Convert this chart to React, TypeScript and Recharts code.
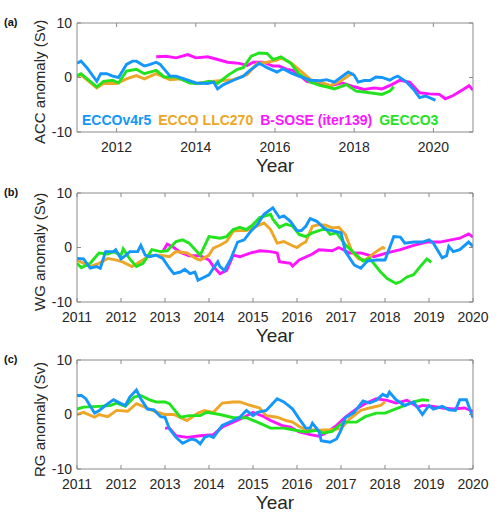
import { Legend, Line, LineChart, XAxis, YAxis } from 'recharts';

const COLORS = {
  ecco4: '#1496FA',
  llc270: '#EEA626',
  bsose: '#FF14FF',
  gecco3: '#22E41E',
};

const NAMES = {
  ecco4: 'ECCOv4r5',
  llc270: 'ECCO LLC270',
  bsose: 'B-SOSE (iter139)',
  gecco3: 'GECCO3',
};

const FONT = '"Liberation Sans", Arial, Helvetica, sans-serif';
const TEXT = '#262626';
const AXIS = '#8a8a8a';

const Y_TICKS = [-10, 0, 10];
const X_TICKS_A = [2012, 2014, 2016, 2018, 2020];
const X_TICKS_BC = [2011, 2012, 2013, 2014, 2015, 2016, 2017, 2018, 2019, 2020];

type Pt = [number, number];

// (a) ACC
const accEcco4: Pt[] = [
  [2011.0, 2.6], [2011.1, 3.0], [2011.25, 1.8], [2011.5, -0.7], [2011.6, 0.7], [2011.75, 0.7], [2011.9, 0.25],
  [2012.05, 0], [2012.25, 2.4], [2012.4, 3.0], [2012.5, 3.0], [2012.7, 2.1], [2012.85, 2.4], [2013.0, 2.8],
  [2013.1, 2.4], [2013.35, 0.25], [2013.5, 0.25], [2013.8, -0.5], [2014.0, -1.0], [2014.3, -1.1], [2014.45, -0.85],
  [2014.55, -2.1], [2014.7, -1.3], [2014.95, -0.5], [2015.2, 0.25], [2015.35, 1.2], [2015.6, 2.6], [2015.8, 1.8],
  [2016.05, 1.0], [2016.2, 1.6], [2016.4, 0.85], [2016.6, 0.25], [2016.9, -0.5], [2017.15, -0.6], [2017.3, -0.4],
  [2017.5, -0.85], [2017.65, -0.05], [2017.85, 1.0], [2018.0, 0.4], [2018.1, -0.85], [2018.25, -0.55],
  [2018.4, -0.55], [2018.55, 0.1], [2018.7, 0], [2018.9, -0.5], [2019.0, -0.05], [2019.1, 0.25], [2019.3, -0.7],
  [2019.5, -2.2], [2019.65, -3.7], [2019.8, -3.4], [2020.0, -4.0], [2020.05, -4.2],
];
const accLlc270: Pt[] = [
  [2011.0, 0.2], [2011.1, 0.5], [2011.5, -1.9], [2011.67, -1.1], [2012.0, -1.1], [2012.25, -0.25], [2012.5, 0.35],
  [2012.7, -0.25], [2013.0, 0.7], [2013.35, -0.4], [2013.6, -0.25], [2014.0, -1.1], [2014.45, -0.7], [2014.95, -0.4],
  [2015.3, 0.55], [2015.55, 2.6], [2015.8, 2.8], [2016.05, 3.2], [2016.15, 3.6], [2016.4, 2.7], [2016.6, 1.5],
  [2016.9, -0.4], [2017.15, -0.85], [2017.4, -1.5], [2017.65, -0.7], [2017.9, 0.55], [2018.0, 0.7],
];
const accBsose: Pt[] = [
  [2013.0, 3.8], [2013.25, 3.9], [2013.5, 3.6], [2013.8, 4.2], [2014.0, 3.6], [2014.3, 3.8], [2014.55, 3.3],
  [2014.8, 2.8], [2015.1, 2.6], [2015.3, 2.2], [2015.45, 2.8], [2015.7, 2.8], [2015.95, 2.1], [2016.1, 2.1],
  [2016.3, 1.5], [2016.45, 1.3], [2016.6, 0.55], [2016.8, -0.7], [2017.05, -1.0], [2017.4, -1.5], [2017.7, -1.0],
  [2018.0, -1.7], [2018.25, -2.2], [2018.5, -1.9], [2018.7, -2.1], [2018.95, -1.3], [2019.15, -0.5], [2019.4, -0.85],
  [2019.65, -2.8], [2019.9, -3.0], [2020.15, -3.1], [2020.3, -3.9], [2020.5, -3.3], [2020.75, -2.2], [2020.9, -1.5],
  [2021.0, -2.3],
];
const accGecco3: Pt[] = [
  [2011.0, 0.35], [2011.1, 0.7], [2011.5, -1.7], [2011.67, -0.7], [2011.9, -0.5], [2012.05, -1.0], [2012.25, 1.2],
  [2012.5, 1.5], [2012.7, 0.7], [2013.0, 1.3], [2013.2, 0.1], [2013.5, 0.1], [2013.85, -1.0], [2014.1, -1.1],
  [2014.35, -0.7], [2014.55, -1.1], [2014.8, 0.35], [2015.05, 1.5], [2015.2, 1.8], [2015.4, 3.9], [2015.6, 4.5],
  [2015.8, 4.4], [2015.95, 3.3], [2016.15, 3.8], [2016.4, 2.6], [2016.6, 0.7], [2016.9, -0.85], [2017.15, -1.5],
  [2017.3, -1.7], [2017.5, -2.1], [2017.8, -1.3], [2018.05, -2.5], [2018.3, -2.7], [2018.7, -3.1], [2018.9, -2.5],
  [2019.0, -1.7],
];

// (b) WG
const wgEcco4: Pt[] = [
  [2011.0, -2.0], [2011.15, -2.1], [2011.3, -3.8], [2011.45, -3.5], [2011.53, -3.8], [2011.65, -0.75],
  [2011.83, -0.75], [2011.88, -0.4], [2012.0, -2.1], [2012.1, -1.5], [2012.2, -0.75], [2012.38, -0.75],
  [2012.45, 0.4], [2012.55, -1.4], [2012.65, -1.7], [2012.8, -1.4], [2012.95, -2.0], [2013.1, -3.8], [2013.2, -4.8],
  [2013.35, -4.5], [2013.45, -4.0], [2013.57, -4.8], [2013.68, -4.5], [2013.75, -6.0], [2014.0, -5.0],
  [2014.2, -2.6], [2014.25, -3.5], [2014.35, -4.2], [2014.5, -2.0], [2014.65, 1.0], [2014.8, 1.4], [2014.95, 3.0],
  [2015.1, 4.2], [2015.25, 6.1], [2015.45, 7.3], [2015.6, 5.5], [2015.7, 5.8], [2015.85, 4.8], [2016.0, 3.1],
  [2016.1, 3.1], [2016.2, 3.9], [2016.3, 5.3], [2016.45, 4.8], [2016.65, 3.3], [2016.8, 3.1], [2017.0, 2.7],
  [2017.1, -0.75], [2017.3, -3.2], [2017.45, -3.8], [2017.6, -2.5], [2017.8, -2.3], [2018.0, -2.3], [2018.2, 2.0],
  [2018.35, 1.9], [2018.45, 0.8], [2018.65, 1.0], [2018.85, 1.0], [2019.0, 1.4], [2019.1, 0.8], [2019.3, -1.9],
  [2019.4, -1.5], [2019.45, 0.2], [2019.55, -0.75], [2019.7, -0.4], [2019.9, 1.0], [2020.0, 0.2],
];
const wgLlc270: Pt[] = [
  [2011.0, -2.3], [2011.15, -2.9], [2011.3, -3.5], [2011.5, -2.9], [2011.7, -2.0], [2011.9, -2.3], [2012.05, -2.7],
  [2012.25, -3.5], [2012.45, -2.5], [2012.65, -1.5], [2012.9, -1.4], [2013.1, -1.7], [2013.25, -0.75],
  [2013.5, -1.0], [2013.7, -2.0], [2013.8, -2.3], [2014.0, -1.4], [2014.1, -0.1], [2014.25, 0.4], [2014.4, 1.1],
  [2014.55, 3.0], [2014.7, 3.1], [2014.85, 3.1], [2015.0, 3.6], [2015.25, 4.5], [2015.4, 3.3], [2015.55, 0.8],
  [2015.7, 1.1], [2015.85, 0.5], [2016.0, 0], [2016.1, 0.6], [2016.2, 1.0], [2016.35, 3.9], [2016.5, 4.2],
  [2016.65, 4.1], [2016.8, 3.6], [2016.95, 3.7], [2017.1, 2.4], [2017.25, -0.75], [2017.4, -2.1], [2017.55, -2.3],
  [2017.8, -0.75], [2017.95, 0], [2018.0, -0.25],
];
const wgBsose: Pt[] = [
  [2012.95, -0.75], [2013.05, 0.6], [2013.2, 0], [2013.35, -0.9], [2013.55, -1.5], [2013.8, -1.5], [2014.0, -2.3],
  [2014.1, -3.5], [2014.25, -4.8], [2014.4, -4.2], [2014.55, -1.4], [2014.7, -1.7], [2014.95, -1.0], [2015.15, -0.6],
  [2015.4, -0.75], [2015.55, -1.0], [2015.6, -2.6], [2015.85, -2.9], [2015.9, -3.4], [2016.05, -2.3], [2016.35, -1.2],
  [2016.5, -0.4], [2016.8, -0.6], [2016.95, 0], [2017.2, -1.0], [2017.45, -1.0], [2017.75, -1.7], [2018.05, -1.0],
  [2018.35, -0.4], [2018.65, 0.4], [2018.95, 1.0], [2019.25, 1.0], [2019.5, 1.4], [2019.7, 1.7], [2019.9, 2.5],
  [2020.0, 1.9],
];
const wgGecco3: Pt[] = [
  [2011.0, -2.9], [2011.1, -3.7], [2011.3, -2.9], [2011.5, -1.0], [2011.7, -1.2], [2011.83, -0.75], [2012.0, -1.4],
  [2012.05, -0.25], [2012.2, -2.1], [2012.35, -3.5], [2012.5, -2.9], [2012.6, -1.7], [2012.7, -0.4], [2012.9, -0.75],
  [2013.05, -0.6], [2013.25, 1.1], [2013.4, 1.4], [2013.55, 0.8], [2013.65, -0.1], [2013.8, -1.4], [2014.0, 2.0],
  [2014.25, 1.7], [2014.4, 2.0], [2014.55, 3.3], [2014.7, 3.7], [2014.85, 3.3], [2015.0, 4.2], [2015.15, 5.5],
  [2015.4, 6.1], [2015.45, 5.2], [2015.6, 3.7], [2015.75, 4.3], [2015.9, 3.9], [2016.05, 2.4], [2016.2, 2.0],
  [2016.35, 2.7], [2016.5, 3.1], [2016.65, 3.5], [2016.75, 2.4], [2016.9, 2.7], [2017.1, 0.5], [2017.35, -1.4],
  [2017.5, -2.5], [2017.65, -2.0], [2017.9, -4.5], [2018.05, -5.7], [2018.25, -6.6], [2018.35, -6.3],
  [2018.5, -5.4], [2018.65, -5.0], [2018.8, -3.5], [2018.95, -2.1], [2019.05, -2.7],
];

// (c) RG
const rgEcco4: Pt[] = [
  [2011.0, 3.5], [2011.1, 3.5], [2011.2, 2.9], [2011.4, 0.25], [2011.5, 0.7], [2011.7, 2.0], [2011.83, 2.7],
  [2012.0, 2.0], [2012.1, 1.65], [2012.2, 3.2], [2012.35, 4.5], [2012.45, 2.9], [2012.6, 1.0], [2012.75, 0.85],
  [2012.9, -0.4], [2013.0, -0.5], [2013.1, -2.6], [2013.25, -4.2], [2013.4, -5.3], [2013.6, -4.5], [2013.7, -4.7],
  [2013.8, -5.4], [2013.9, -4.2], [2014.0, -3.9], [2014.1, -4.2], [2014.3, -2.0], [2014.55, -1.1], [2014.7, -0.5],
  [2014.85, 0.75], [2015.0, -0.2], [2015.1, 0.4], [2015.3, 0.75], [2015.55, 2.9], [2015.7, 2.3], [2015.85, 1.35],
  [2015.9, 1.0], [2016.05, -0.8], [2016.2, -2.5], [2016.3, -2.5], [2016.35, -1.6], [2016.5, -3.1], [2016.55, -4.8],
  [2016.75, -5.1], [2016.9, -4.5], [2017.0, -2.9], [2017.1, -0.6], [2017.3, 0.4], [2017.5, 2.5], [2017.65, 2.1],
  [2017.8, 2.6], [2017.95, 3.7], [2018.05, 3.3], [2018.1, 4.1], [2018.25, 2.7], [2018.45, 1.65], [2018.65, 2.3],
  [2018.85, 0], [2019.0, 1.65], [2019.1, 1.0], [2019.3, 1.5], [2019.45, 0.85], [2019.6, 0.75], [2019.7, 2.7],
  [2019.85, 2.7], [2020.0, -0.6],
];
const rgLlc270: Pt[] = [
  [2011.0, 0], [2011.15, 0.4], [2011.4, -0.5], [2011.5, 0], [2011.7, -0.4], [2011.9, 0.75], [2012.15, 0.6],
  [2012.35, 2.0], [2012.5, 1.5], [2012.75, 0.6], [2013.0, 0], [2013.2, 0], [2013.5, -1.1], [2013.75, 0.25],
  [2013.9, 0.75], [2014.1, 0.4], [2014.3, 2.1], [2014.55, 2.3], [2014.7, 2.3], [2014.95, 1.65], [2015.15, 1.2],
  [2015.3, -0.2], [2015.55, -0.5], [2015.75, -1.1], [2015.9, -1.4], [2016.05, -2.2], [2016.2, -2.8], [2016.5, -2.9],
  [2016.75, -2.8], [2017.0, -2.6], [2017.2, -0.8], [2017.45, 0.75], [2017.65, 1.2], [2017.9, 1.65], [2018.0, 2.3],
];
const rgBsose: Pt[] = [
  [2013.0, -2.5], [2013.1, -2.5], [2013.25, -3.9], [2013.5, -4.2], [2013.8, -3.9], [2014.1, -3.7], [2014.3, -2.3],
  [2014.55, -1.4], [2014.8, -0.5], [2015.0, 0.4], [2015.25, -0.4], [2015.4, -1.1], [2015.65, -2.0], [2015.85, -2.3],
  [2016.05, -3.2], [2016.3, -3.7], [2016.5, -4.0], [2016.7, -3.2], [2016.9, -2.0], [2017.1, -0.5], [2017.35, 1.0],
  [2017.55, 2.0], [2017.8, 2.9], [2018.05, 2.6], [2018.25, 2.1], [2018.5, 2.6], [2018.75, 1.35], [2018.85, 1.65],
  [2019.1, 1.5], [2019.3, 1.2], [2019.55, 1.0], [2019.8, 1.2], [2020.0, 0.6],
];
const rgGecco3: Pt[] = [
  [2011.0, 1.0], [2011.15, 1.35], [2011.5, 1.5], [2011.75, 1.65], [2011.9, 2.1], [2012.1, 1.5], [2012.3, 3.2],
  [2012.45, 3.5], [2012.65, 2.7], [2012.8, 2.3], [2013.0, 2.3], [2013.1, 2.0], [2013.2, 1.0], [2013.35, -0.5],
  [2013.55, -0.2], [2013.8, -0.2], [2013.95, 0.4], [2014.25, 0], [2014.55, -0.6], [2014.85, -0.6], [2015.1, -1.4],
  [2015.4, -2.5], [2015.7, -2.5], [2015.9, -2.8], [2016.2, -3.2], [2016.45, -2.9], [2016.6, -3.4], [2016.8, -3.1],
  [2017.05, -1.4], [2017.35, -1.4], [2017.55, -0.4], [2017.8, 0.25], [2018.0, 0.25], [2018.35, 1.35],
  [2018.65, 2.3], [2018.85, 2.7], [2019.0, 2.6],
];

type Key = keyof typeof COLORS;
const DRAW_ORDER: Key[] = ['bsose', 'llc270', 'gecco3', 'ecco4'];
const LEGEND_ORDER: Key[] = ['ecco4', 'llc270', 'bsose', 'gecco3'];

const toRows = (pts: Pt[]) => pts.map(([t, v]) => ({ t, v }));

interface PanelProps {
  tag: string;
  yLabel: string;
  xMax: number;
  xTicks: number[];
  series: Record<Key, Pt[]>;
  top: number;
  legend?: boolean;
}

const LegendRow = () => (
  <div style={{ display: 'flex', gap: 7, fontFamily: FONT, fontSize: 14, fontWeight: 'bold', whiteSpace: 'nowrap' }}>
    {LEGEND_ORDER.map((k) => (
      <span key={k} style={{ color: COLORS[k] }}>
        {NAMES[k]}
      </span>
    ))}
  </div>
);

const tickStyle = { fill: TEXT, fontSize: 14, fontFamily: FONT };

function Panel({ tag, yLabel, xMax, xTicks, series, top, legend }: PanelProps) {
  return (
    <div style={{ position: 'absolute', left: 0, top, width: 500, height: 176 }}>
      <div style={{ position: 'absolute', left: 4, top: 16, fontFamily: FONT, fontSize: 11, fontWeight: 'bold', color: '#111' }}>
        {tag}
      </div>
      {/* y-axis title, written bottom-to-top */}
      <div
        style={{
          position: 'absolute',
          left: 31,
          top: 20,
          height: 124,
          width: 18,
          lineHeight: '18px',
          writingMode: 'vertical-rl',
          transform: 'rotate(180deg)',
          textAlign: 'center',
          whiteSpace: 'nowrap',
          fontFamily: FONT,
          fontSize: 15,
          color: TEXT,
          zIndex: 1,
        }}
      >
        {yLabel}
      </div>
      <LineChart width={500} height={176} margin={{ top: 22, right: 26, left: 0, bottom: 0 }}>
        <XAxis
          xAxisId="bottom"
          type="number"
          dataKey="t"
          domain={[2011, xMax]}
          ticks={xTicks}
          allowDataOverflow
          stroke={AXIS}
          tickSize={-4}
          tickMargin={14}
          tick={tickStyle}
          interval={0}
          height={44}
          label={{ value: 'Year', position: 'insideBottom', offset: 4, style: { fill: TEXT, fontSize: 19, fontFamily: FONT } }}
        />
        <XAxis
          xAxisId="top"
          orientation="top"
          type="number"
          dataKey="t"
          domain={[2011, xMax]}
          ticks={xTicks}
          allowDataOverflow
          stroke={AXIS}
          tickSize={-4}
          tickFormatter={() => ''}
          interval={0}
          height={1}
        />
        <YAxis
          yAxisId="left"
          type="number"
          domain={[-10, 10]}
          ticks={Y_TICKS}
          allowDataOverflow
          stroke={AXIS}
          tickSize={-4}
          tickMargin={9}
          tick={tickStyle}
          interval={0}
          width={77}
        />
        <YAxis
          yAxisId="right"
          orientation="right"
          type="number"
          domain={[-10, 10]}
          ticks={Y_TICKS}
          allowDataOverflow
          stroke={AXIS}
          tickSize={-4}
          tickFormatter={() => ''}
          interval={0}
          width={1}
        />
        {DRAW_ORDER.map((k) => (
          <Line
            key={k}
            xAxisId="bottom"
            yAxisId="left"
            data={toRows(series[k])}
            dataKey="v"
            name={NAMES[k]}
            type="linear"
            stroke={COLORS[k]}
            strokeWidth={2.9}
            dot={false}
            isAnimationActive={false}
          />
        ))}
        {legend && (
          <Legend
            layout="horizontal"
            align="center"
            verticalAlign="middle"
            content={() => <LegendRow />}
            wrapperStyle={{ left: 82, top: 112, width: 'auto' }}
          />
        )}
      </LineChart>
    </div>
  );
}

export default function App() {
  return (
    <div style={{ position: 'absolute', left: 0, top: 0, width: 500, height: 521, background: '#fff' }}>
      <Panel
        tag="(a)"
        yLabel="ACC anomaly (Sv)"
        xMax={2021}
        xTicks={X_TICKS_A}
        series={{ ecco4: accEcco4, llc270: accLlc270, bsose: accBsose, gecco3: accGecco3 }}
        top={0}
        legend
      />
      <Panel
        tag="(b)"
        yLabel="WG anomaly (Sv)"
        xMax={2020}
        xTicks={X_TICKS_BC}
        series={{ ecco4: wgEcco4, llc270: wgLlc270, bsose: wgBsose, gecco3: wgGecco3 }}
        top={170}
      />
      <Panel
        tag="(c)"
        yLabel="RG anomaly (Sv)"
        xMax={2020}
        xTicks={X_TICKS_BC}
        series={{ ecco4: rgEcco4, llc270: rgLlc270, bsose: rgBsose, gecco3: rgGecco3 }}
        top={337}
      />
    </div>
  );
}
